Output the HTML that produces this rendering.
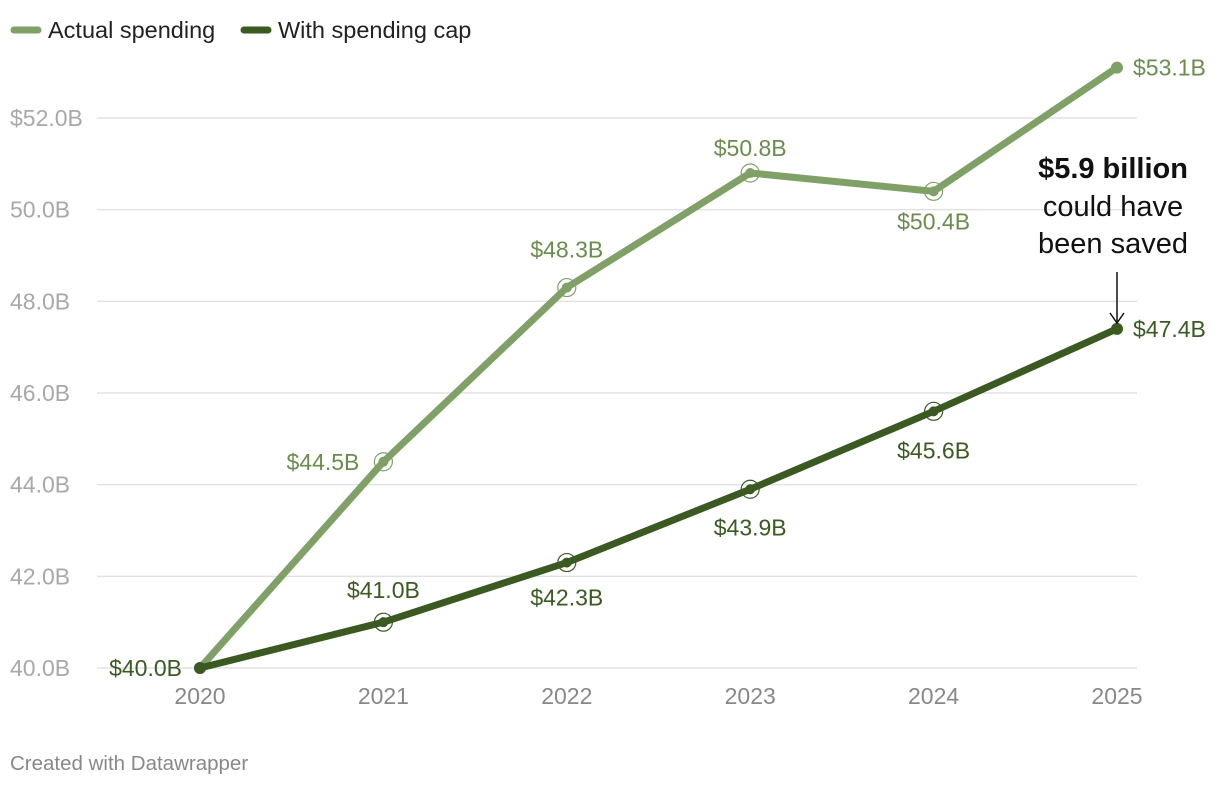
<!DOCTYPE html>
<html><head><meta charset="utf-8">
<style>
body{margin:0;background:#fff;width:1220px;height:786px;overflow:hidden;font-family:"Liberation Sans",Roboto,sans-serif}
svg{position:absolute;left:0;top:0}
</style></head>
<body>
<svg id="chart" width="1220" height="786" font-family="Liberation Sans, sans-serif">
  <g>
    <line x1="14" y1="30" x2="38" y2="30" stroke="#7fa066" stroke-width="7" stroke-linecap="round"/>
    <text x="48" y="38" font-size="23.5" fill="#222">Actual spending</text>
    <line x1="244" y1="30" x2="268" y2="30" stroke="#3a5a22" stroke-width="7" stroke-linecap="round"/>
    <text x="278" y="38" font-size="23.5" fill="#222">With spending cap</text>
  </g>
  <g id="grid"></g>
  <g id="series"></g>
  <g>
    <text x="1113" y="178" font-size="29" font-weight="bold" text-anchor="middle" fill="#111">$5.9 billion</text>
    <text x="1113" y="216" font-size="29" text-anchor="middle" fill="#111">could have</text>
    <text x="1113" y="253" font-size="29" text-anchor="middle" fill="#111">been saved</text>
    <line x1="1117" y1="272" x2="1117" y2="322" stroke="#111" stroke-width="1.5"/>
    <path d="M1110 313 L1117 323 L1124 313" fill="none" stroke="#111" stroke-width="1.5"/>
  </g>
  <text x="10" y="770" font-size="20.5" fill="#888">Created with Datawrapper</text>
</svg>
<script>
const years = [2020, 2021, 2022, 2023, 2024, 2025];
const actual = [40.0, 44.5, 48.3, 50.8, 50.4, 53.1];
const capped = [40.0, 41.0, 42.3, 43.9, 45.6, 47.4];
const yTicks = [40, 42, 44, 46, 48, 50, 52];
const yTickLabels = ["40.0B","42.0B","44.0B","46.0B","48.0B","50.0B","$52.0B"];

const NS = "http://www.w3.org/2000/svg";
const x = i => 200 + i * (917 / 5);
const y = v => 668 - (v - 40) * (550 / 12);
function mk(tag, attrs, parent, text){
  const e = document.createElementNS(NS, tag);
  for (const k in attrs) e.setAttribute(k, attrs[k]);
  if (text !== undefined) e.textContent = text;
  parent.appendChild(e); return e;
}
const grid = document.getElementById('grid');
const ser = document.getElementById('series');
yTicks.forEach((t, i) => {
  const l = mk('line', {x1: 97, x2: 1137, y1: y(t), y2: y(t), stroke: '#e2e2e2', 'stroke-width': 1.5}, grid);
  
  
  const tx = mk('text', {x: 10, y: y(t) + 8, 'font-size': 23, fill: '#a8a8a8'}, grid, yTickLabels[i]);
  
  
});
years.forEach((yr, i) => {
  const tx = mk('text', {x: x(i), y: 704, 'font-size': 23, fill: '#888', 'text-anchor': 'middle'}, grid, yr);
  
  
});
function drawLine(vals, color, labelColor, name, offsets){
  const p = mk('polyline', {points: vals.map((v, i) => x(i) + ',' + y(v)).join(' '), fill: 'none', stroke: color, 'stroke-width': 7, 'stroke-linejoin': 'round'}, ser);
  
  
  vals.forEach((v, i) => {
    if (i > 0 && i < vals.length - 1) {
      const c = mk('circle', {cx: x(i), cy: y(v), r: 9, fill: 'none', stroke: color, 'stroke-width': 1.2}, ser);
      
      
    }
    const d = mk('circle', {cx: x(i), cy: y(v), r: i === 0 || i === vals.length - 1 ? 6 : 5, fill: color}, ser);
    
    
    const o = offsets[i];
    if (!o) return;
    const t = mk('text', {x: x(i) + o[0], y: y(v) + o[1], 'font-size': 23, fill: labelColor, 'text-anchor': o[2]}, ser, '$' + v.toFixed(1) + 'B');
    
    
  });
}
drawLine(actual, '#7fa066', '#6b8c4f', 'actual', [null, [-24, 8, 'end'], [0, -30, 'middle'], [0, -17, 'middle'], [0, 38, 'middle'], [16, 8, 'start']]);
drawLine(capped, '#3a5a22', '#3a5a22', 'capped', [[-18, 8, 'end'], [0, -24, 'middle'], [0, 43, 'middle'], [0, 46, 'middle'], [0, 47, 'middle'], [16, 8, 'start']]);
</script>
</body></html>
